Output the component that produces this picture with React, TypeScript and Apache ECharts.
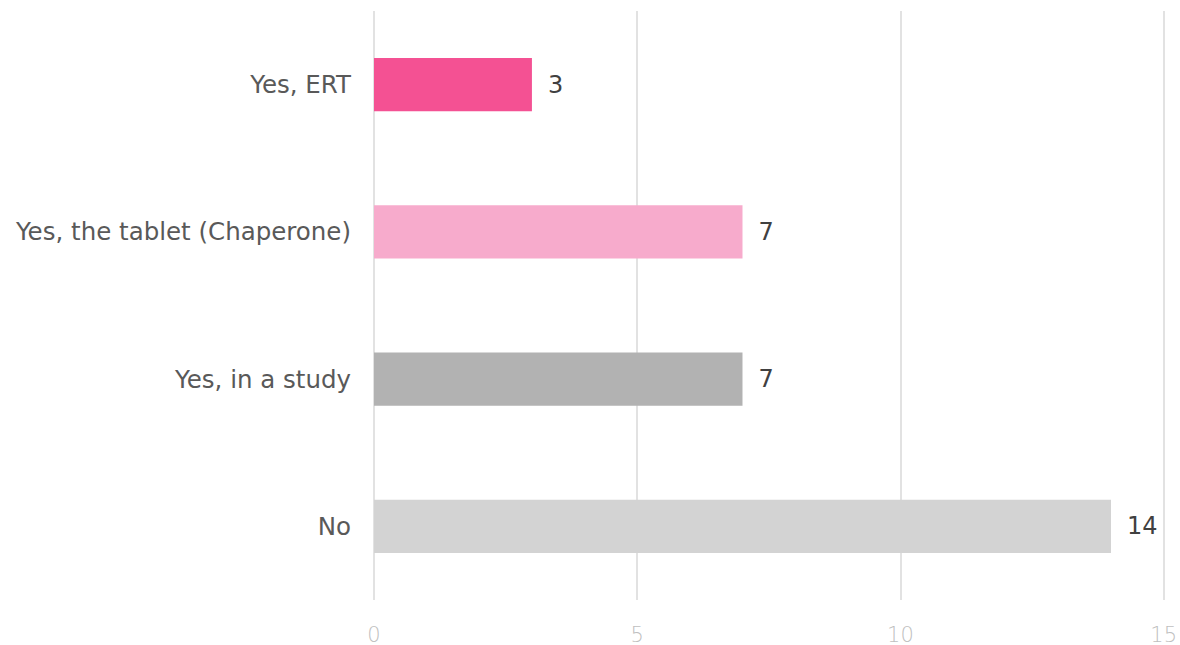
import React, { useEffect, useRef } from "react";
import * as echarts from "echarts";

const categories = ["No", "Yes, in a study", "Yes, the tablet (Chaperone)", "Yes, ERT"];
const values = [14, 7, 7, 3];
const barColors = ["#D3D3D3", "#B2B2B2", "#F7ABCC", "#F45193"];
const axisMin = 0;
const axisMax = 15;
const axisInterval = 5;

export default function App() {
  const ref = useRef<HTMLDivElement>(null);
  useEffect(() => {
    if (!ref.current) return;
    const chart = echarts.init(ref.current, null, { renderer: "svg" });
    chart.setOption({
      animation: false,
      grid: { left: 374, width: 793, top: 11, height: 589, containLabel: false },
      xAxis: {
        type: "value",
        min: axisMin,
        max: axisMax,
        interval: axisInterval,
        axisLine: { show: false },
        axisTick: { show: false },
        splitLine: { show: true, lineStyle: { color: "#D9D9D9", width: 1.5 } },
        axisLabel: {
          color: "#BFBFBF",
          fontFamily: "DejaVu Sans",
          fontWeight: 200,
          fontSize: 21,
          margin: 24,
        },
      },
      yAxis: {
        type: "category",
        data: categories,
        axisLine: { show: false },
        axisTick: { show: false },
        splitLine: { show: false },
        axisLabel: {
          color: "#595959",
          fontFamily: "DejaVu Sans",
          fontSize: 24.5,
          margin: 23,
        },
      },
      series: [
        {
          type: "bar",
          data: values.map((v, i) => ({ value: v, itemStyle: { color: barColors[i] } })),
          barWidth: "36%",
          label: {
            show: true,
            position: "right",
            distance: 16,
            color: "#404040",
            fontFamily: "DejaVu Sans",
            fontSize: 24,
          },
        },
      ],
    });
    return () => chart.dispose();
  }, []);
  return <div ref={ref} style={{ width: 1180, height: 645, position: "absolute", left: 0, top: 0 }} />;
}
